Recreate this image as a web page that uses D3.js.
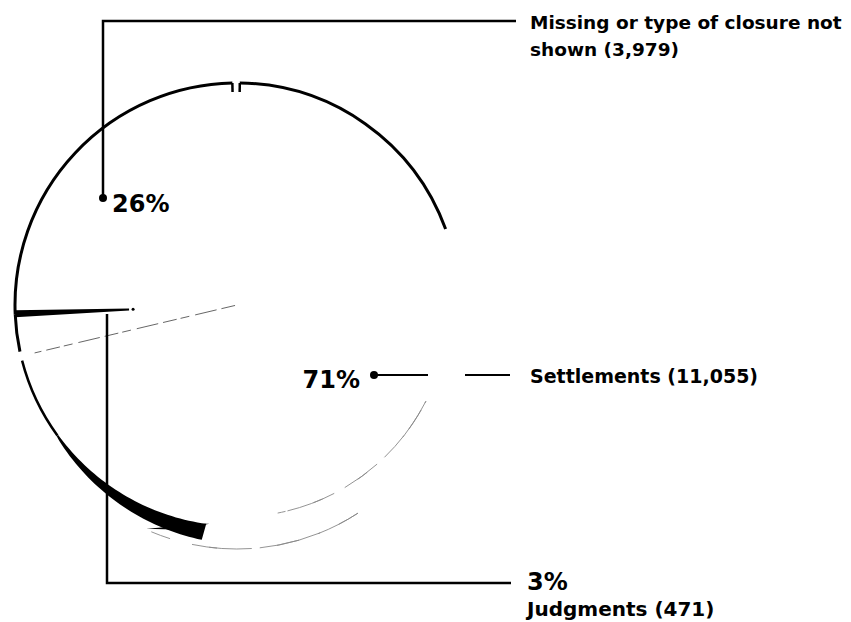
<!DOCTYPE html>
<html><head><meta charset="utf-8">
<script src="https://cdn.jsdelivr.net/npm/d3@7"></script>
<style>body{margin:0;background:#fff}svg{display:block}text{font-family:"DejaVu Sans","Liberation Sans",Arial,sans-serif;fill:#000}</style>
</head><body>
<script>
// ---- data ----
const categories = ["Settlements", "Judgments", "Missing or type of closure not shown"];
const counts = [11055, 471, 3979];
const percentLabels = ["71%", "3%", "26%"];

const W = 851, H = 622;
const svg = d3.select("body").append("svg").attr("width", W).attr("height", H);

const cx = 237, cy = 305, R = 222;
const deg = Math.PI / 180;
const g = svg.append("g").attr("transform", `translate(${cx},${cy})`);

const pie = d3.pie().sort(null).value(d => d.count);
const arcs = pie(categories.map((c, i) => ({cat: c, count: counts[i], pct: percentLabels[i]})));
const [sA, jA, mA] = arcs;

const ring = (r) => d3.arc().innerRadius(r).outerRadius(r);
const pt = (a, r) => [Math.sin(a) * r, -Math.cos(a) * r];
const pad = 1.2 * deg;

// Missing slice outline (thick)
g.append("path").attr("d", ring(R)({startAngle: mA.startAngle, endAngle: mA.endAngle - pad}))
  .attr("fill", "none").attr("stroke", "#000").attr("stroke-width", 3);
// notch at the top
[mA.endAngle - pad, pad * 0.6].forEach(a => {
  const p1 = pt(a, R), p2 = pt(a, R - 9);
  g.append("line").attr("x1", p1[0]).attr("y1", p1[1]).attr("x2", p2[0]).attr("y2", p2[1])
    .attr("stroke", "#000").attr("stroke-width", 2.5);
});
// boundary missing / judgments
{
  const a = mA.startAngle;
  const p1 = pt(a, R), p2 = pt(a, 108);
  g.append("path").attr("d", `M${p1[0]},${p1[1]-4}L${p2[0]},${p2[1]-1}L${p2[0]},${p2[1]+1}L${p1[0]},${p1[1]+3}Z`)
    .attr("fill", "#000");
  g.append("circle").attr("cx", pt(a, 104)[0]).attr("cy", pt(a, 104)[1]).attr("r", 1.5).attr("fill", "#000");
}
// Judgments arc
g.append("path").attr("d", ring(R)({startAngle: jA.startAngle + pad, endAngle: jA.endAngle}))
  .attr("fill", "none").attr("stroke", "#000").attr("stroke-width", 3);

// Settlements: thick arc at top-right
g.append("path").attr("d", ring(R)({startAngle: sA.startAngle + pad * 0.6, endAngle: 70 * deg}))
  .attr("fill", "none").attr("stroke", "#000").attr("stroke-width", 3);
// Settlements: thick arc on the left
g.append("path").attr("d", ring(R)({startAngle: 234 * deg, endAngle: sA.endAngle - pad}))
  .attr("fill", "none").attr("stroke", "#000").attr("stroke-width", 2.5);
// boundary settlements / judgments (faint dashed)
{
  const p1 = pt(sA.endAngle, 2), p2 = pt(sA.endAngle, 208);
  g.append("line").attr("x1", p1[0]).attr("y1", p1[1]).attr("x2", p2[0]).attr("y2", p2[1])
    .attr("stroke", "#555").attr("stroke-width", 0.9).attr("stroke-dasharray", "14 5 22 6 9 4");
}
// faint settlements rim
g.append("path").attr("d", ring(212)({startAngle: 117 * deg, endAngle: 172 * deg}))
  .attr("fill", "none").attr("stroke", "#888").attr("stroke-width", 0.9).attr("stroke-dasharray", "2 8 60 10 40 12 50");
// faint lower rim (depth)
const depth = 22;
g.append("path").attr("transform", `translate(0,${depth})`)
  .attr("d", ring(R)({startAngle: 147 * deg, endAngle: 203 * deg}))
  .attr("fill", "none").attr("stroke", "#888").attr("stroke-width", 0.9).attr("stroke-dasharray", "45 20 40 8 60");

// black crescent (side wall)
{
  const a1 = 188 * deg, a2 = 234 * deg, n = 40;
  const top = d3.range(n + 1).map(i => { const a = a1 + (a2 - a1) * i / n; return pt(a, R - 1); });
  const bot = d3.range(n + 1).map(i => {
    const t = i / n, a = a1 + (a2 - a1) * t;
    const p = pt(a, R + 1); const d = 14 * Math.pow(1 - t, 0.8);
    return [p[0] - d * 0.3, p[1] + d];
  }).reverse();
  g.append("path").attr("d", d3.line()(top.concat(bot)) + "Z").attr("fill", "#000");
  g.append("path").attr("d", `M${top[0][0]},${top[0][1]}L${top[0][0]+3},${top[0][1]}L${top[0][0]-25},${top[0][1]+6}L${top[0][0]-60},${top[0][1]+5}Z`).attr("fill", "#000");
}

// ---- leaders & labels ----
const L = svg.append("g");
const fmt = d3.format(",");
// Missing
L.append("path").attr("d", "M103,198V21H516").attr("fill", "none").attr("stroke", "#000").attr("stroke-width", 2.5);
L.append("circle").attr("cx", 103).attr("cy", 198).attr("r", 4).attr("fill", "#000");
L.append("text").attr("x", 112).attr("y", 212).attr("font-size", 24).attr("font-weight", "bold").text(mA.data.pct);
const mt = L.append("text").attr("font-size", 18.5).attr("font-weight", "bold");
mt.append("tspan").attr("x", 530).attr("y", 29).text("Missing or type of closure not");
mt.append("tspan").attr("x", 530).attr("y", 56).text(`shown (${fmt(mA.data.count)})`);

// Settlements
L.append("text").attr("x", 360).attr("y", 388).attr("text-anchor", "end").attr("font-size", 24).attr("font-weight", "bold").text(sA.data.pct);
L.append("circle").attr("cx", 374).attr("cy", 375).attr("r", 4).attr("fill", "#000");
L.append("path").attr("d", "M374,375H428M465,375H510").attr("stroke", "#000").attr("stroke-width", 2);
L.append("text").attr("x", 530).attr("y", 383).attr("font-size", 19).attr("font-weight", "bold")
  .text(`${sA.data.cat} (${fmt(sA.data.count)})`);

// Judgments
L.append("path").attr("d", "M107,314V583H511").attr("fill", "none").attr("stroke", "#000").attr("stroke-width", 2.5);
L.append("text").attr("x", 527).attr("y", 590).attr("font-size", 24).attr("font-weight", "bold").text(jA.data.pct);
L.append("text").attr("x", 527).attr("y", 616).attr("font-size", 20).attr("font-weight", "bold")
  .text(`${jA.data.cat} (${fmt(jA.data.count)})`);
</script>
</body></html>
